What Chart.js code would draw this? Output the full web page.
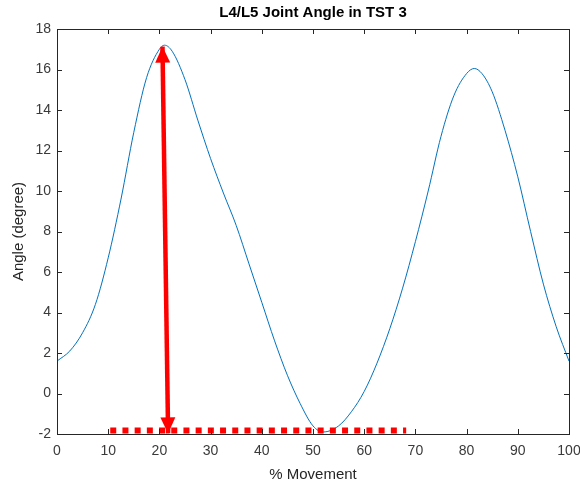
<!DOCTYPE html>
<html>
<head>
<meta charset="utf-8">
<script src="https://cdn.jsdelivr.net/npm/chart.js@4.4.1/dist/chart.umd.min.js"></script>
<style>
  html, body { margin: 0; padding: 0; background: #fff; }
  #wrap { width: 580px; height: 484px; }
</style>
</head>
<body>
<div id="wrap"><canvas id="c" width="580" height="484"></canvas></div>
<script>
// ---- data ----
const movement = [0, 2.5, 5, 7.5, 10, 12.5, 15, 17.5, 20, 21, 22.5, 25, 27.5, 30, 32.5, 35, 37.5, 40, 42.5, 45, 47.5, 50, 52, 55, 57.5, 60, 62.5, 65, 67.5, 70, 72.5, 75, 77.5, 80, 81.5, 83, 85, 87.5, 90, 92.5, 95, 97.5, 100];
const angle    = [1.6, 2.1, 3.0, 4.4, 6.7, 9.6, 12.9, 15.6, 17.0, 17.2, 16.9, 15.5, 13.5, 11.6, 9.9, 8.3, 6.4, 4.5, 2.6, 0.9, -0.5, -1.6, -1.9, -1.6, -0.9, 0.1, 1.5, 3.2, 5.2, 7.5, 10.0, 12.7, 14.7, 15.8, 16.05, 15.8, 14.9, 13.0, 10.7, 8.0, 5.4, 3.3, 1.6];
const arrowX = [20.6, 21.7];
const arrowY = [17.13, -1.97];
const baseX = [10.4, 68.2];
const baseY = [-1.83, -1.83];
const xTicks = [0, 10, 20, 30, 40, 50, 60, 70, 80, 90, 100];
const yTicks = [-2, 0, 2, 4, 6, 8, 10, 12, 14, 16, 18];

const axisColor = '#262626';
const labelColor = '#3a3a3a';
const font = 'Liberation Sans, Arial, Helvetica, sans-serif';

const boxTicks = {
  id: 'boxTicks',
  afterDatasetsDraw(chart) {
    const ctx = chart.ctx;
    const a = chart.chartArea;
    const xs = chart.scales.x, ys = chart.scales.y;
    ctx.save();
    ctx.strokeStyle = axisColor;
    ctx.lineWidth = 1;
    ctx.beginPath();
    const tl = 5;
    xTicks.forEach(v => {
      const px = Math.round(xs.getPixelForValue(v)) + 0.5;
      ctx.moveTo(px, a.bottom); ctx.lineTo(px, a.bottom - tl);
      ctx.moveTo(px, a.top); ctx.lineTo(px, a.top + tl);
    });
    yTicks.forEach(v => {
      const py = Math.round(ys.getPixelForValue(v)) + 0.5;
      ctx.moveTo(a.left, py); ctx.lineTo(a.left + tl, py);
      ctx.moveTo(a.right, py); ctx.lineTo(a.right - tl, py);
    });
    ctx.stroke();
    ctx.strokeRect(Math.round(a.left) + 0.5, Math.round(a.top) + 0.5, Math.round(a.right - a.left), Math.round(a.bottom - a.top));
    // arrowheads
    const p0 = {x: xs.getPixelForValue(arrowX[0]), y: ys.getPixelForValue(arrowY[0])};
    const p1 = {x: xs.getPixelForValue(arrowX[1]), y: ys.getPixelForValue(arrowY[1])};
    const head = (tip, from) => {
      const ang = Math.atan2(tip.y - from.y, tip.x - from.x);
      const L = 16, W = 7.5;
      const bx = tip.x - L * Math.cos(ang), by = tip.y - L * Math.sin(ang);
      ctx.beginPath();
      ctx.moveTo(tip.x, tip.y);
      ctx.lineTo(bx + W * Math.sin(ang), by - W * Math.cos(ang));
      ctx.lineTo(bx - W * Math.sin(ang), by + W * Math.cos(ang));
      ctx.closePath();
      ctx.fillStyle = '#ff0000';
      ctx.fill();
    };
    head(p0, p1);
    head(p1, p0);
    ctx.restore();
  }
};

new Chart(document.getElementById('c'), {
  type: 'line',
  data: {
    datasets: [
      {
        data: movement.map((x, i) => ({x, y: angle[i]})),
        borderColor: '#0072BD',
        borderWidth: 1,
        pointRadius: 0,
        tension: 0.4,
        cubicInterpolationMode: 'monotone',
        order: 3
      },
      {
        data: baseX.map((x, i) => ({x, y: baseY[i]})),
        borderColor: '#ff0000',
        borderWidth: 6,
        borderDash: [6, 6.2],
        borderCapStyle: 'butt',
        pointRadius: 0,
        order: 2
      },
      {
        data: arrowX.map((x, i) => ({x, y: arrowY[i]})),
        borderColor: '#ff0000',
        borderWidth: 4.5,
        pointRadius: 0,
        order: 1
      }
    ]
  },
  options: {
    responsive: false,
    animation: false,
    layout: { padding: { left: 0, right: 11, top: 0, bottom: 0 } },
    plugins: {
      legend: { display: false },
      tooltip: { enabled: false },
      title: {
        display: true,
        text: 'L4/L5 Joint Angle in TST 3',
        fullSize: false,
        color: '#000',
        font: { family: font, size: 15, weight: 'bold' },
        padding: { top: 4, bottom: 7 }
      }
    },
    scales: {
      x: {
        type: 'linear',
        min: 0, max: 100,
        grid: { display: false, drawTicks: false },
        border: { display: false },
        afterBuildTicks: s => { s.ticks = xTicks.map(v => ({value: v})); },
        afterFit: s => { s.height = 50; s.paddingLeft = 0; s.paddingRight = 0; },
        ticks: { color: labelColor, font: { family: font, size: 14 }, padding: 9, maxRotation: 0, autoSkip: false },
        title: { display: true, text: '% Movement', color: axisColor, font: { family: font, size: 15 }, padding: { top: 2, bottom: 0 } }
      },
      y: {
        min: -2, max: 18,
        grid: { display: false, drawTicks: false },
        border: { display: false },
        afterBuildTicks: s => { s.ticks = yTicks.map(v => ({value: v})); },
        afterFit: s => { s.width = 57; s.paddingTop = 0; s.paddingBottom = 0; },
        ticks: { color: labelColor, font: { family: font, size: 14 }, padding: 6, autoSkip: false },
        title: { display: true, text: 'Angle (degree)', color: axisColor, font: { family: font, size: 15 }, padding: { top: 10, bottom: 2 } }
      }
    }
  },
  plugins: [boxTicks]
});
</script>
</body>
</html>
